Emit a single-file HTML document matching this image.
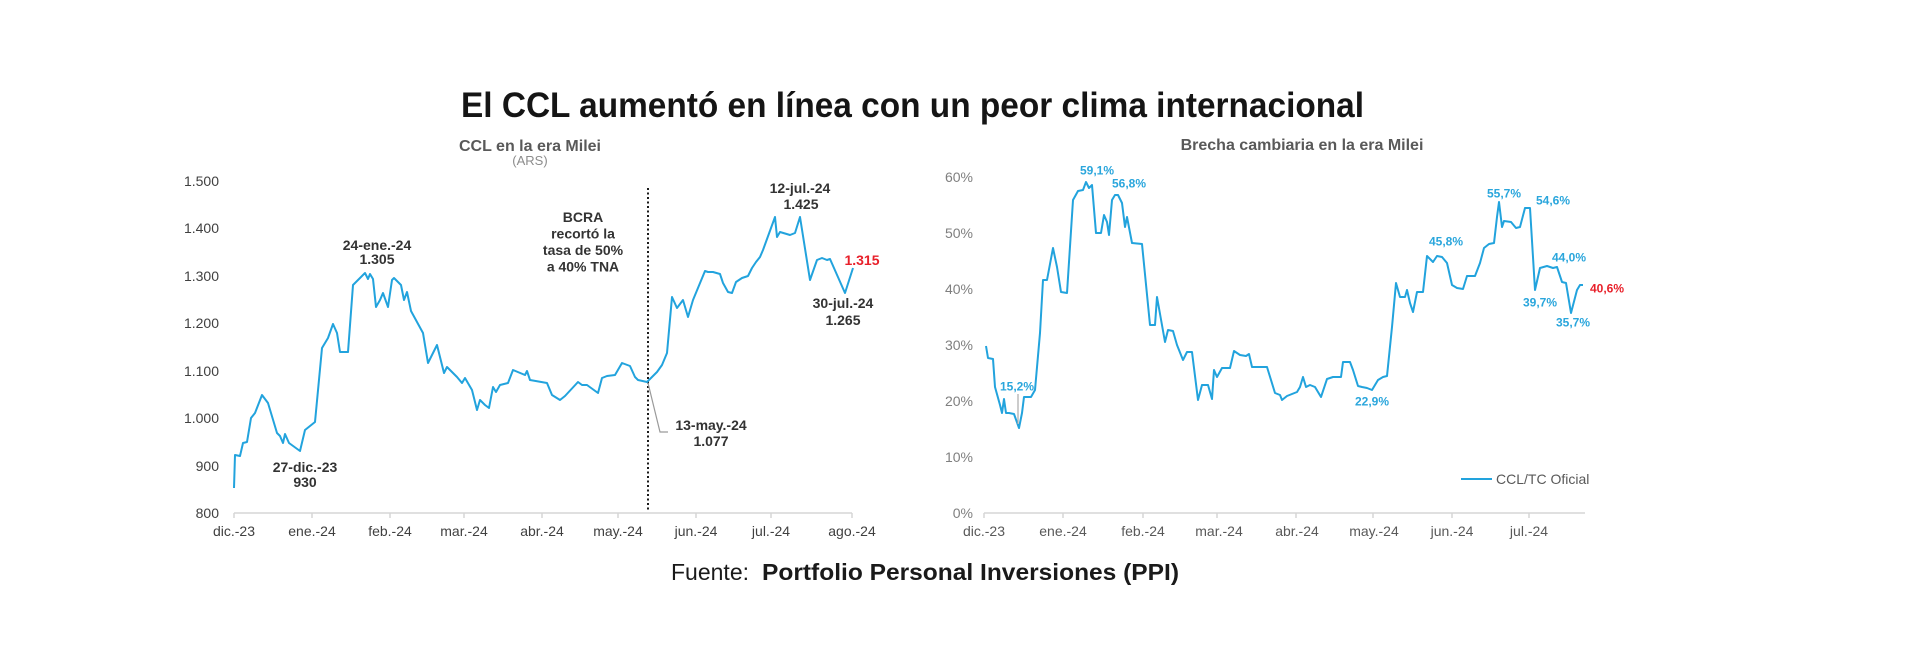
<!DOCTYPE html>
<html>
<head>
<meta charset="utf-8">
<style>
  html, body { margin: 0; padding: 0; background: #ffffff; }
  svg { display: block; }
  text { font-family: "Liberation Sans", "DejaVu Sans", sans-serif; }
  .ttl { font-size: 35px; font-weight: bold; fill: #151515; }
  .sub { font-size: 16px; font-weight: bold; fill: #595959; }
  .unit { font-size: 13px; fill: #8c8c8c; }
  .ylL { font-size: 14px; fill: #404040; text-anchor: end; }
  .ylR { font-size: 14px; fill: #7f7f7f; text-anchor: end; }
  .xl { font-size: 14px; fill: #404040; text-anchor: middle; }
  .xlR { font-size: 14px; fill: #595959; text-anchor: middle; }
  .ann { font-size: 14px; font-weight: bold; fill: #333333; text-anchor: middle; }
  .red { font-size: 14px; font-weight: bold; fill: #e8202a; text-anchor: middle; }
  .pl { font-size: 12px; font-weight: bold; fill: #2aa6dc; text-anchor: middle; }
  .plr { font-size: 12px; font-weight: bold; fill: #e8202a; }
  .leg { font-size: 14px; fill: #595959; }
  .src { font-size: 23px; fill: #1a1a1a; }
  .srcb { font-size: 23px; font-weight: bold; fill: #1a1a1a; }
</style>
</head>
<body>
<svg width="1920" height="655" viewBox="0 0 1920 655" xmlns="http://www.w3.org/2000/svg">
  <rect x="0" y="0" width="1920" height="655" fill="#ffffff"/>

  <!-- Title -->
  <text class="ttl" x="461" y="117" textLength="903" lengthAdjust="spacingAndGlyphs">El CCL aumentó en línea con un peor clima internacional</text>

  <!-- ================= LEFT CHART ================= -->
  <text class="sub" x="530" y="151" text-anchor="middle">CCL en la era Milei</text>
  <text class="unit" x="530" y="165" text-anchor="middle">(ARS)</text>

  <!-- y labels -->
  <text class="ylL" x="219" y="186">1.500</text>
  <text class="ylL" x="219" y="233">1.400</text>
  <text class="ylL" x="219" y="281">1.300</text>
  <text class="ylL" x="219" y="328">1.200</text>
  <text class="ylL" x="219" y="376">1.100</text>
  <text class="ylL" x="219" y="423">1.000</text>
  <text class="ylL" x="219" y="471">900</text>
  <text class="ylL" x="219" y="518">800</text>

  <!-- x axis -->
  <line x1="234" y1="513" x2="852" y2="513" stroke="#d6d6d6" stroke-width="1.5"/>
  <g stroke="#d6d6d6" stroke-width="1.5">
    <line x1="234" y1="513" x2="234" y2="518"/>
    <line x1="312" y1="513" x2="312" y2="518"/>
    <line x1="390" y1="513" x2="390" y2="518"/>
    <line x1="464" y1="513" x2="464" y2="518"/>
    <line x1="542" y1="513" x2="542" y2="518"/>
    <line x1="618" y1="513" x2="618" y2="518"/>
    <line x1="696" y1="513" x2="696" y2="518"/>
    <line x1="771" y1="513" x2="771" y2="518"/>
    <line x1="852" y1="513" x2="852" y2="518"/>
  </g>
  <text class="xl" x="234" y="536">dic.-23</text>
  <text class="xl" x="312" y="536">ene.-24</text>
  <text class="xl" x="390" y="536">feb.-24</text>
  <text class="xl" x="464" y="536">mar.-24</text>
  <text class="xl" x="542" y="536">abr.-24</text>
  <text class="xl" x="618" y="536">may.-24</text>
  <text class="xl" x="696" y="536">jun.-24</text>
  <text class="xl" x="771" y="536">jul.-24</text>
  <text class="xl" x="852" y="536">ago.-24</text>

  <!-- dotted vertical line -->
  <line x1="648" y1="188" x2="648" y2="512" stroke="#1a1a1a" stroke-width="2" stroke-dasharray="2,2.5"/>

  <!-- series -->
  <polyline fill="none" stroke="#22a3dd" stroke-width="2" stroke-linejoin="round" points="
    234,488 235,455 240,456 243,443 247,442 251,418 255,413 262,395 268,403 277,433 280,436 283,443 285,434 289,443 300,451
    305,430 315,422 322,348 328,338 333,324 337,333 340,352 348,352 353,285 358,280 365,273 368,279 370,274 373,279 376,307
    380,300 383,293 388,307 392,280 394,278 401,285 404,300 407,292 411,311 423,333 428,363 437,345 440,357 444,373 447,367
    457,377 462,383 465,378 472,390 477,410 480,400 485,405 489,408 493,387 496,392 500,385 508,383 513,370 525,375 527,371
    530,380 547,383 552,395 560,400 565,396 578,382 582,385 587,385 598,393 602,378 607,376 615,375 622,363 630,366 635,377
    638,380 647,382 657,372 662,365 667,353 672,297 677,308 683,300 688,317 693,300 705,271 708,272 713,272 720,274 723,283
    728,292 732,293 736,282 742,278 748,276 752,268 756,262 760,257 763,250 775,217 777,237 780,232 790,235 795,233 800,217
    810,280 817,260 822,258 827,260 830,259 845,293 853,268"/>

  <!-- annotations -->
  <text class="ann" x="377" y="250">24-ene.-24</text>
  <text class="ann" x="377" y="264">1.305</text>
  <text class="ann" x="305" y="472">27-dic.-23</text>
  <text class="ann" x="305" y="487">930</text>
  <text class="ann" x="583" y="222">BCRA</text>
  <text class="ann" x="583" y="238.5">recortó la</text>
  <text class="ann" x="583" y="255">tasa de 50%</text>
  <text class="ann" x="583" y="271.5">a 40% TNA</text>
  <polyline fill="none" stroke="#9a9a9a" stroke-width="1.2" points="648,383 660,432 668,432"/>
  <text class="ann" x="711" y="430">13-may.-24</text>
  <text class="ann" x="711" y="446">1.077</text>
  <text class="ann" x="800" y="193">12-jul.-24</text>
  <text class="ann" x="801" y="209">1.425</text>
  <text class="red" x="862" y="265">1.315</text>
  <text class="ann" x="843" y="308">30-jul.-24</text>
  <text class="ann" x="843" y="325">1.265</text>

  <!-- ================= RIGHT CHART ================= -->
  <text class="sub" x="1302" y="150" text-anchor="middle">Brecha cambiaria en la era Milei</text>

  <text class="ylR" x="973" y="182">60%</text>
  <text class="ylR" x="973" y="238">50%</text>
  <text class="ylR" x="973" y="294">40%</text>
  <text class="ylR" x="973" y="350">30%</text>
  <text class="ylR" x="973" y="406">20%</text>
  <text class="ylR" x="973" y="462">10%</text>
  <text class="ylR" x="973" y="518">0%</text>

  <line x1="984" y1="513" x2="1585" y2="513" stroke="#d6d6d6" stroke-width="1.5"/>
  <g stroke="#d6d6d6" stroke-width="1.5">
    <line x1="984" y1="513" x2="984" y2="518"/>
    <line x1="1063" y1="513" x2="1063" y2="518"/>
    <line x1="1143" y1="513" x2="1143" y2="518"/>
    <line x1="1217" y1="513" x2="1217" y2="518"/>
    <line x1="1296" y1="513" x2="1296" y2="518"/>
    <line x1="1373" y1="513" x2="1373" y2="518"/>
    <line x1="1452" y1="513" x2="1452" y2="518"/>
    <line x1="1529" y1="513" x2="1529" y2="518"/>
  </g>
  <text class="xlR" x="984" y="536">dic.-23</text>
  <text class="xlR" x="1063" y="536">ene.-24</text>
  <text class="xlR" x="1143" y="536">feb.-24</text>
  <text class="xlR" x="1219" y="536">mar.-24</text>
  <text class="xlR" x="1297" y="536">abr.-24</text>
  <text class="xlR" x="1374" y="536">may.-24</text>
  <text class="xlR" x="1452" y="536">jun.-24</text>
  <text class="xlR" x="1529" y="536">jul.-24</text>

  <polyline fill="none" stroke="#22a3dd" stroke-width="2" stroke-linejoin="round" points="
    986,346 988,358 993,359 995,387 1000,405 1002,413 1004,399 1006,413 1009,413 1014,414 1019,428 1022,413 1024,397 1031,397
    1035,390 1040,333 1043,280 1047,280 1053,248 1057,267 1061,292 1067,293 1073,200 1078,191 1083,190 1086,182 1089,188
    1092,185 1096,233 1101,233 1104,215 1107,222 1109,235 1112,200 1115,195 1118,195 1122,203 1125,227 1127,217 1132,243
    1142,244 1150,325 1155,325 1157,297 1165,342 1168,330 1173,331 1177,345 1183,360 1187,352 1192,352 1198,400 1202,385
    1208,385 1212,399 1214,370 1217,377 1222,368 1230,368 1234,351 1240,355 1246,356 1249,354 1252,367 1267,367 1275,393
    1280,395 1282,400 1287,396 1297,392 1300,387 1303,377 1306,387 1310,385 1315,387 1321,397 1327,379 1333,377 1341,377
    1343,362 1350,362 1353,370 1358,386 1362,387 1367,388 1372,390 1378,380 1383,377 1387,376 1392,327 1396,283 1400,297
    1405,297 1407,290 1410,303 1413,312 1417,292 1423,292 1427,256 1433,262 1437,256 1442,257 1447,263 1452,285 1457,288
    1463,289 1467,276 1475,276 1480,263 1484,248 1489,244 1494,243 1497,217 1499,202 1502,227 1504,221 1511,222 1516,228
    1520,227 1525,208 1530,208 1535,290 1540,268 1547,266 1553,268 1557,267 1562,282 1566,283 1571,313 1577,290 1580,285 1583,285"/>

  <line x1="1018" y1="394" x2="1018" y2="424" stroke="#aaaaaa" stroke-width="1.2"/>
  <text class="pl" x="1097" y="174.5">59,1%</text>
  <text class="pl" x="1129" y="187.5">56,8%</text>
  <text class="pl" x="1017" y="390.5">15,2%</text>
  <text class="pl" x="1372" y="405.5">22,9%</text>
  <text class="pl" x="1446" y="245.5">45,8%</text>
  <text class="pl" x="1504" y="197.5">55,7%</text>
  <text class="pl" x="1553" y="204.5">54,6%</text>
  <text class="pl" x="1569" y="261.5">44,0%</text>
  <text class="pl" x="1540" y="306.5">39,7%</text>
  <text class="pl" x="1573" y="326.5">35,7%</text>
  <text class="plr" x="1590" y="292.5">40,6%</text>

  <!-- legend -->
  <line x1="1461" y1="479" x2="1492" y2="479" stroke="#22a3dd" stroke-width="2"/>
  <text class="leg" x="1496" y="484">CCL/TC Oficial</text>

  <!-- Source -->
  <text class="src" x="671" y="580" textLength="78" lengthAdjust="spacingAndGlyphs">Fuente:</text>
  <text class="srcb" x="762" y="580" textLength="417" lengthAdjust="spacingAndGlyphs">Portfolio Personal Inversiones (PPI)</text>
</svg>
</body>
</html>
